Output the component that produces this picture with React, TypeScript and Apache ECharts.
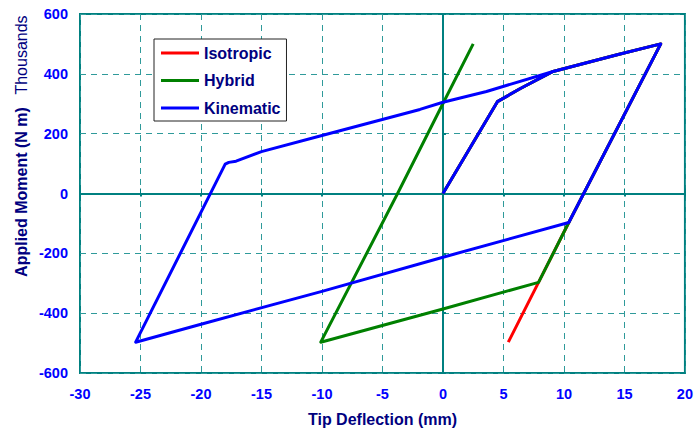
import React, { useEffect, useRef } from "react";
import * as echarts from "echarts";

const seriesNames = ["Isotropic", "Hybrid", "Kinematic"];
const seriesColors = ["#FF0000", "#008000", "#0000FF"];

// Tip deflection (mm), applied moment (thousands N m)
const isotropic: number[][] = [
  [0, 0], [4.5, 307], [6.4, 351], [9.1, 408], [14.4, 464], [18.0, 500],
  [10.4, -97], [7.9, -297], [5.4, -497],
];
const hybrid: number[][] = [
  [0, 0], [4.5, 307], [6.4, 351], [9.1, 408], [14.4, 464], [18.0, 500],
  [10.4, -97], [7.9, -297], [0, -386], [-10.1, -497],
  [-3.75, 0], [0, 301], [2.5, 500],
];
const kinematic: number[][] = [
  [0, 0], [4.5, 307], [6.4, 351], [9.1, 408], [14.4, 464], [18.0, 500],
  [10.4, -97], [0, -213], [-10, -327], [-20, -437], [-25.4, -497],
  [-18.0, 98], [-17.7, 104], [-17.1, 108], [-15, 140], [-10, 194],
  [-1.9, 281], [0, 305], [3.6, 341], [9.1, 408], [14.4, 464], [18.0, 500],
];
const seriesData = [isotropic, hybrid, kinematic];

const xMin = -30, xMax = 20, xStep = 5;
const yMin = -600, yMax = 600, yStep = 200;

const TEAL = "#008080";
const FONT = "'Liberation Sans', Arial, sans-serif";

export default function App() {
  const ref = useRef<HTMLDivElement>(null);
  useEffect(() => {
    if (!ref.current) return;
    const chart = echarts.init(ref.current, undefined, { renderer: "svg" });
    const tickLabel = { color: "#0000FF", fontWeight: "bold", fontSize: 14.5, fontFamily: FONT };
    chart.setOption({
      animation: false,
      backgroundColor: "#ffffff",
      grid: { left: 80, right: 11, top: 14, bottom: 61, show: true, borderColor: TEAL, borderWidth: 2, backgroundColor: "transparent" },
      legend: {
        data: seriesNames,
        orient: "vertical",
        left: 154,
        top: 39,
        icon: "rect",
        itemWidth: 38,
        itemHeight: 3,
        itemGap: 11.5,
        backgroundColor: "#ffffff",
        borderColor: "#222222",
        borderWidth: 1,
        borderRadius: 0,
        padding: [6, 6, 5, 7],
        selectedMode: false,
        textStyle: { color: "#000080", fontWeight: "bold", fontSize: 16, fontFamily: FONT, lineHeight: 16 },
      },
      xAxis: [
        {
          type: "value", min: xMin, max: xMax, interval: xStep,
          axisLine: { show: false },
          axisTick: { show: true, inside: true, length: 5, lineStyle: { color: TEAL, width: 1 } },
          axisLabel: { ...tickLabel, margin: 13 },
          splitLine: { show: true, lineStyle: { color: "#2f9a9a", width: 1, type: [6, 5] } },
          name: "Tip Deflection (mm)", nameLocation: "middle", nameGap: 38,
          nameTextStyle: { color: "#000080", fontWeight: "bold", fontSize: 16, fontFamily: FONT },
        },
        {
          type: "value", min: xMin, max: xMax, interval: xStep, position: "top",
          axisLine: { show: true, onZero: true, onZeroAxisIndex: 0, lineStyle: { color: TEAL, width: 2 } },
          axisTick: { show: true, inside: true, length: 3, lineStyle: { color: TEAL, width: 2 } },
          axisLabel: { show: false }, splitLine: { show: false },
        },
      ],
      yAxis: [
        {
          type: "value", min: yMin, max: yMax, interval: yStep,
          axisLine: { show: false }, axisTick: { show: false },
          axisLabel: { ...tickLabel, margin: 12 },
          splitLine: { show: true, lineStyle: { color: "#2f9a9a", width: 1, type: [6, 5] } },
        },
        {
          type: "value", min: yMin, max: yMax, interval: yStep, position: "left",
          axisLine: { show: true, onZero: true, onZeroAxisIndex: 0, lineStyle: { color: TEAL, width: 2 } },
          axisTick: { show: true, inside: true, length: 3, lineStyle: { color: TEAL, width: 2 } },
          axisLabel: { show: false }, splitLine: { show: false },
        },
      ],
      graphic: [
        {
          type: "text", x: 21, y: 192, rotation: Math.PI / 2,
          style: { text: "Applied Moment (N m)", fill: "#000080", font: `bold 16px ${FONT}`, textAlign: "center", textVerticalAlign: "middle" },
        },
        {
          type: "text", x: 21, y: 55, rotation: Math.PI / 2,
          style: { text: "Thousands", fill: "#000080", font: `16px ${FONT}`, textAlign: "center", textVerticalAlign: "middle" },
        },
      ],
      series: seriesNames.map((name, i) => ({
        name,
        type: "line",
        data: seriesData[i],
        xAxisIndex: 0,
        yAxisIndex: 0,
        showSymbol: false,
        symbol: "none",
        lineStyle: { color: seriesColors[i], width: 3, join: "round" },
        itemStyle: { color: seriesColors[i] },
        z: 3 + i,
      })),
    });
    return () => chart.dispose();
  }, []);
  return <div ref={ref} style={{ position: "fixed", left: 0, top: 0, width: 696, height: 434 }} />;
}
